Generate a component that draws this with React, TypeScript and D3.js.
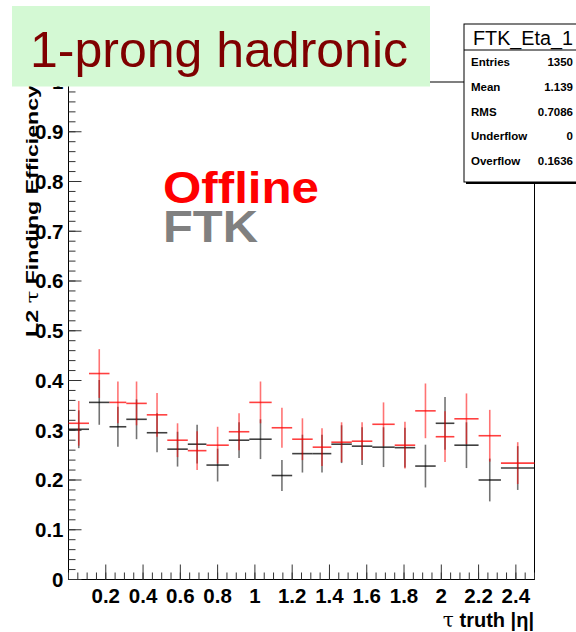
import React from "react";
import * as d3 from "d3";

const binEdges = [0, 0.11, 0.22, 0.31, 0.42, 0.53, 0.64, 0.74, 0.86, 0.97, 1.09, 1.2, 1.31, 1.41, 1.52, 1.63, 1.75, 1.86, 1.97, 2.07, 2.2, 2.32, 2.5];
const offlineEff = [0.314, 0.414, 0.356, 0.354, 0.331, 0.280, 0.259, 0.270, 0.297, 0.356, 0.305, 0.282, 0.266, 0.276, 0.278, 0.312, 0.270, 0.339, 0.287, 0.323, 0.289, 0.234];
const offlineErr = [0.045, 0.049, 0.042, 0.044, 0.044, 0.034, 0.039, 0.037, 0.037, 0.042, 0.040, 0.042, 0.038, 0.040, 0.038, 0.044, 0.047, 0.055, 0.051, 0.051, 0.052, 0.042];
const ftkEff = [0.302, 0.356, 0.307, 0.322, 0.295, 0.262, 0.272, 0.230, 0.280, 0.282, 0.209, 0.253, 0.253, 0.272, 0.268, 0.266, 0.265, 0.228, 0.314, 0.270, 0.200, 0.224];
const ftkErr = [0.038, 0.045, 0.040, 0.040, 0.039, 0.035, 0.039, 0.033, 0.036, 0.040, 0.031, 0.038, 0.038, 0.038, 0.038, 0.040, 0.040, 0.043, 0.053, 0.046, 0.043, 0.044];

const xTickValues = [0.2, 0.4, 0.6, 0.8, 1.0, 1.2, 1.4, 1.6, 1.8, 2.0, 2.2, 2.4];
const yTickValues = [0, 0.1, 0.2, 0.3, 0.4, 0.5, 0.6, 0.7, 0.8, 0.9, 1.0];

const statLabels = ["Entries", "Mean", "RMS", "Underflow", "Overflow"];
const statValues = ["1350", "1.139", "0.7086", "0", "0.1636"];

const titleText = "1-prong hadronic";
const histName = "FTK_Eta_1";
const yTitle = "Finding Efficiency";
const xTitle = "truth |η|";
const legendOffline = "Offline";
const legendFtk = "FTK";

const W = 576;
const H = 632;
const L = 68.5, R = 534.5, T = 82, B = 579.5;
const FONT = "'Liberation Sans', Arial, Helvetica, sans-serif";

export default function App() {
  const x = d3.scaleLinear().domain([0, 2.5]).range([L, R]);
  const y = d3.scaleLinear().domain([0, 1]).range([B, T]);

  const xMinor = d3.range(0, 2.5001, 0.05);
  const yMinor = d3.range(0, 1.0001, 0.02);

  const series = (vals: number[], errs: number[], color: string, key: string) =>
    vals.map((v, i) => {
      const x0 = x(binEdges[i]);
      const x1 = x(binEdges[i + 1]);
      const xc = (x0 + x1) / 2;
      return (
        <g key={key + i}>
          <line x1={xc} x2={xc} y1={y(v - errs[i])} y2={y(v + errs[i])} stroke={color} strokeWidth={1.6} strokeOpacity={0.55} />
          <line x1={x0} x2={x1} y1={y(v)} y2={y(v)} stroke={color} strokeWidth={1.6} strokeOpacity={0.75} />
        </g>
      );
    });

  return (
    <svg width={W} height={H} style={{ position: "absolute", left: 0, top: 0, background: "#fff" }} fontFamily={FONT}>
      <rect x={0} y={0} width={W} height={H} fill="#fff" />
      {/* frame */}
      <rect x={L} y={T} width={R - L} height={B - T} fill="none" stroke="#000" strokeWidth={1} />

      {/* y axis ticks */}
      {yMinor.map((v, i) => (
        <line key={"ym" + i} x1={L} x2={L + 7} y1={y(v)} y2={y(v)} stroke="#333" strokeWidth={1} />
      ))}
      {yTickValues.map((v, i) => (
        <g key={"yt" + i}>
          <line x1={L} x2={L + 13} y1={y(v)} y2={y(v)} stroke="#333" strokeWidth={1} />
          <text x={L - 5} y={y(v)} dy="0.36em" textAnchor="end" fontSize={20.5} fontWeight="bold" fill="#000">
            {String(+v.toFixed(1))}
          </text>
        </g>
      ))}

      {/* x axis ticks */}
      {xMinor.map((v, i) => (
        <line key={"xm" + i} x1={x(v)} x2={x(v)} y1={B} y2={B - 7} stroke="#333" strokeWidth={1} />
      ))}
      {xTickValues.map((v, i) => (
        <g key={"xt" + i}>
          <line x1={x(v)} x2={x(v)} y1={B} y2={B - 15} stroke="#333" strokeWidth={1} />
          <text x={x(v)} y={603} textAnchor="middle" fontSize={20.5} fontWeight="bold" fill="#000">
            {String(+v.toFixed(1))}
          </text>
        </g>
      ))}

      {/* axis titles */}
      <text x={534} y={627} textAnchor="end" fontSize={20} fontWeight="bold" fill="#000">
        <tspan fontWeight="normal" fontFamily="'DejaVu Serif', serif">τ</tspan> {xTitle}
      </text>
      <text transform="translate(38,337) rotate(-90)" fontSize={17} fontWeight="bold" fill="#000" textLength={252} lengthAdjust="spacingAndGlyphs">
        L2 <tspan fontWeight="normal" fontFamily="'DejaVu Serif', serif">τ</tspan> {yTitle}
      </text>

      {/* data */}
      {series(ftkEff, ftkErr, "#000000", "f")}
      {series(offlineEff, offlineErr, "#ff0000", "o")}

      {/* legend text */}
      <text x={163} y={203} fontSize={44} fontWeight="bold" fill="#ff0000" textLength={156} lengthAdjust="spacingAndGlyphs">{legendOffline}</text>
      <text x={163} y={242} fontSize={44} fontWeight="bold" fill="#808080" textLength={95} lengthAdjust="spacingAndGlyphs">{legendFtk}</text>

      {/* title box */}
      <rect x={12} y={6} width={418} height={80.5} fill="#d4f9d4" />
      <text x={30} y={67} fontSize={50} fill="#7f0000" textLength={378} lengthAdjust="spacingAndGlyphs">{titleText}</text>

      {/* stats box */}
      <rect x={466} y={26} width={116} height={158} fill="#000" />
      <rect x={464} y={24} width={116} height={158} fill="#fff" stroke="#000" strokeWidth={1} />
      <line x1={464} x2={580} y1={50} y2={50} stroke="#000" strokeWidth={1} />
      <text x={473} y={45} fontSize={20} fill="#000" textLength={100} lengthAdjust="spacingAndGlyphs">{histName}</text>
      {statLabels.map((s, i) => (
        <g key={"st" + i}>
          <text x={471} y={66 + i * 24.8} fontSize={11.5} fontWeight="bold" fill="#000">{s}</text>
          <text x={573} y={66 + i * 24.8} fontSize={11.5} fontWeight="bold" fill="#000" textAnchor="end">{statValues[i]}</text>
        </g>
      ))}
    </svg>
  );
}
